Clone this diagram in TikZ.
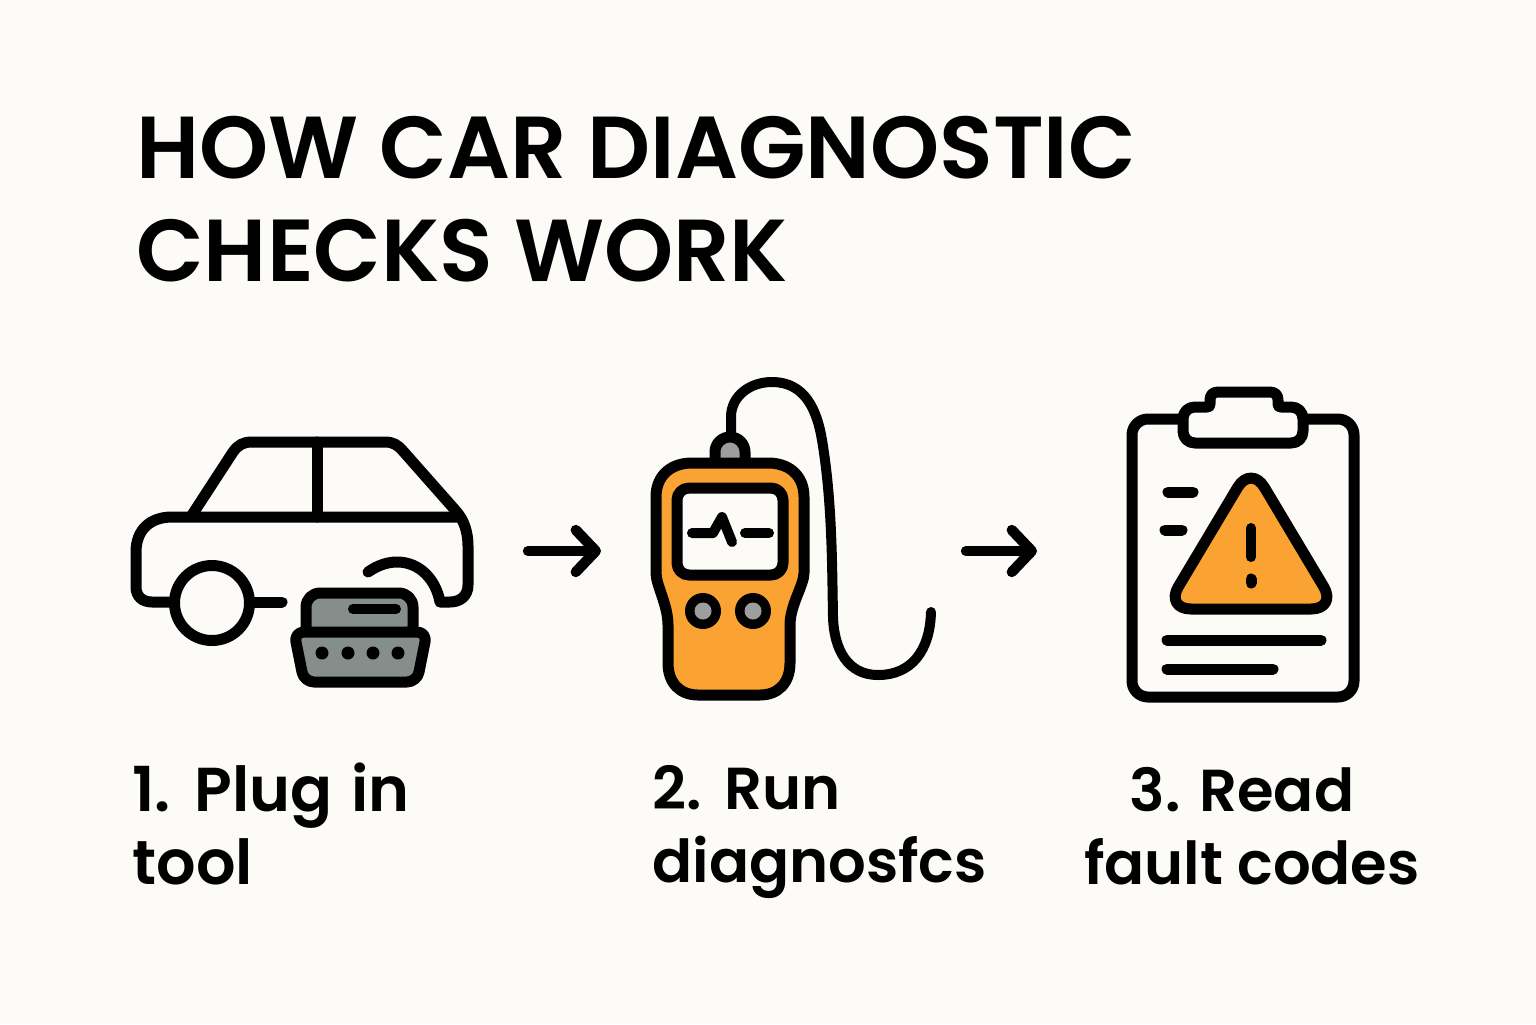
\documentclass[tikz,border=0pt]{standalone}
\usepackage{fontspec}
\setmainfont{Poppins SemiBold}
\usetikzlibrary{arrows.meta}
\definecolor{bg}{HTML}{FDFBF7}
\definecolor{ora}{HTML}{FBA332}
\definecolor{gra}{HTML}{868E8B}
\definecolor{grb}{HTML}{9E9F9D}
\tikzset{
  x=0.5pt,y=-0.5pt,
  ink/.style={draw=black,line width=5.5pt,line join=round,line cap=round},
  thin ink/.style={draw=black,line width=5pt,line join=round,line cap=round},
  flowarrow/.style={draw=black,line width=5.2pt,line cap=round,line join=round,-{Straight Barb[length=10pt,width=21pt,round]}},
  titletext/.style={anchor=west,inner sep=0pt,align=left,font=\fontsize{44}{51.5}\selectfont},
  steptext/.style={inner sep=0pt,font=\fontsize{31}{36.5}\selectfont},
  steptextb/.style={inner sep=0pt,font=\fontsize{29.6}{36.5}\selectfont},
}
\begin{document}
\begin{tikzpicture}
\fill[bg] (0,0) rectangle (1536,1024);
\useasboundingbox (0,0) rectangle (1536,1024);
\node[titletext] (title) at (136,199) {HOW CAR DIAGNOSTIC\\CHECKS WORK};
% car
\draw[ink] (170,602) -- (152,602) .. controls (142,602) and (136,596) .. (136,587) -- (136,552)
  .. controls (136,530) and (150,517) .. (172,517) -- (458,517);
\draw[ink] (192,515) -- (233,452) .. controls (238,445) and (243,442) .. (252,442) -- (385,442)
  .. controls (393,442) and (398,445) .. (403,451) -- (456,511)
  .. controls (464,520) and (468,532) .. (468,546) -- (468,585)
  .. controls (468,596) and (460,602) .. (450,602) -- (440,602)
  .. controls (436,580) and (420,562) .. (397,562) .. controls (388,562) and (378,565) .. (368,572);
\draw[ink] (317,442) -- (317,517);
\draw[ink] (212,603) circle[radius=37.5];
\draw[ink] (250,602) -- (282,602);
% OBD plug
\draw[ink,fill=gra,rounded corners=7pt] (306,640) -- (306,593) -- (413,593) -- (413,640) -- cycle;
\draw[thin ink] (353,609) -- (396,609);
\draw[ink,fill=gra,rounded corners=5pt] (294,632) -- (427,632) -- (417,682) -- (304,682) -- cycle;
\foreach \px in {322,348,373,398} \fill[black] (\px,653) circle[radius=6.5];
% arrows
\coordinate (a1s) at (528,551); \coordinate (a1e) at (601,551);
\coordinate (a2s) at (966,551); \coordinate (a2e) at (1037,551);
\draw[flowarrow] (a1s) -- (a1e);
\draw[flowarrow] (a2s) -- (a2e);
% scanner
\draw[thin ink] (731,432) -- (731,417) .. controls (731,396) and (750,382) .. (772,382)
  .. controls (805,382) and (817,410) .. (822,440) .. controls (832,500) and (832,560) .. (833,617)
  .. controls (834,650) and (848,675) .. (878,675) .. controls (912,675) and (930,650) .. (931,612);
\draw[ink,fill=grb] (715,463) -- (715,452) arc[start angle=180,end angle=360,radius=15] -- (745,463);
\draw[ink,fill=ora] (690,463) -- (770,463) .. controls (792,464) and (804,478) .. (804,497) -- (804,573)
  .. controls (804,585) and (790,605) .. (790,625) -- (790,663)
  .. controls (790,683) and (778,695) .. (760,695) -- (698,695)
  .. controls (680,695) and (668,683) .. (668,663) -- (668,625)
  .. controls (668,605) and (656,585) .. (656,573) -- (656,497)
  .. controls (656,478) and (668,464) .. (690,463) -- cycle;
\draw[ink,fill=bg,rounded corners=6pt] (677,488) rectangle (783,575);
\draw[thin ink] (692,533) -- (713,533) -- (722,517) -- (732,542);
\draw[thin ink] (745,533) -- (769,533);
\foreach \px in {703,753} {\fill[black] (\px,611) circle[radius=18]; \fill[grb] (\px,611) circle[radius=8.5];}
% clipboard
\draw[ink,rounded corners=8pt] (1132,419) rectangle (1354,697);
\draw[ink,fill=bg] (1243,443) -- (1291,443) .. controls (1298,443) and (1303,438) .. (1303,431) -- (1303,419)
  .. controls (1303,412) and (1298,407) .. (1291,407) -- (1281,407) .. controls (1279,407) and (1278,406) .. (1278,404) -- (1278,400)
  .. controls (1278,395) and (1275,392) .. (1270,392) -- (1218,392)
  .. controls (1213,392) and (1210,395) .. (1210,400) -- (1210,404) .. controls (1210,406) and (1209,407) .. (1207,407) -- (1195,407)
  .. controls (1188,407) and (1183,412) .. (1183,419) -- (1183,431)
  .. controls (1183,438) and (1188,443) .. (1195,443) -- cycle;
\draw[ink,fill=ora,rounded corners=13pt] (1251,465) -- (1337,609) -- (1165,609) -- cycle;
\draw[thin ink] (1251,528) -- (1251,557);
\draw[ink] (1251,579) -- (1251,583);
\draw[ink] (1168,492) -- (1193,492);
\draw[ink] (1165,530) -- (1182,530);
\draw[ink] (1167,640) -- (1321,640);
\draw[ink] (1167,669) -- (1273,669);
% labels
\node[steptext,anchor=west,align=left] (s1) at (132,824) {1.\hspace{2pt} Plug\hspace{2pt} in\\tool};
\node[steptextb,anchor=west,align=left] (s2) at (652,832) {2.\hspace{2pt} Run\\diagnosfcs};
\node[steptextb,align=center] (s3) at (1252,826) {3. Read\hspace*{10pt}\\fault codes};
\end{tikzpicture}
\end{document}
